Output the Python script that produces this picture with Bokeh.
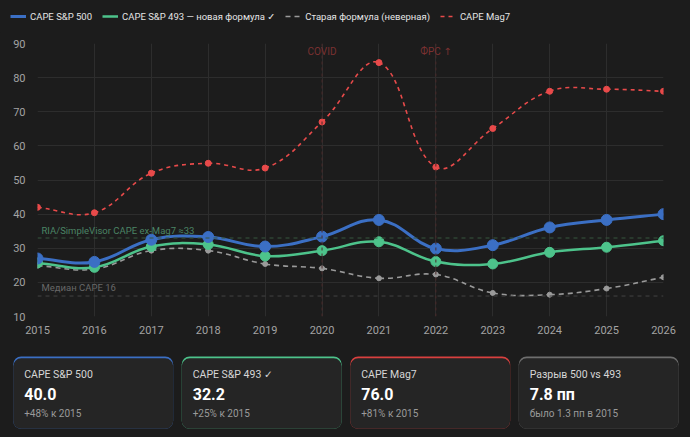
import math
from bokeh.plotting import figure
from bokeh.models import (Range1d, Span, Label, Legend, LegendItem, FixedTicker,
                          ColumnDataSource)
from bokeh.embed import file_html
from bokeh.resources import INLINE

# ---------------- data ----------------
years = [2015, 2016, 2017, 2018, 2019, 2020, 2021, 2022, 2023, 2024, 2025, 2026]
cape_500 = [27.0, 26.0, 32.5, 33.3, 30.5, 33.4, 38.3, 29.9, 30.9, 36.1, 38.3, 40.0]
cape_493 = [25.7, 24.4, 30.5, 31.1, 27.7, 29.3, 31.9, 26.1, 25.4, 28.8, 30.3, 32.2]
cape_old = [24.9, 23.9, 29.3, 29.3, 25.4, 24.1, 21.2, 22.3, 16.9, 16.4, 18.2, 21.5]
cape_mag7 = [42.0, 40.4, 52.0, 54.9, 53.5, 67.0, 84.4, 53.8, 65.1, 76.0, 76.6, 76.0]
y_ticks = [10, 20, 30, 40, 50, 60, 70, 80, 90]

ref_ria = 33
ref_median = 16
event_years = [2020, 2022]
event_labels = ["COVID", "ФРС ↑"]

series_labels = ["CAPE S&P 500", "CAPE S&P 493 — новая формула ✓",
                 "Старая формула (неверная)", "CAPE Mag7"]

card_titles = ["CAPE S&P 500", "CAPE S&P 493 ✓", "CAPE Mag7", "Разрыв 500 vs 493"]
card_values = ["40.0", "32.2", "76.0", "7.8 пп"]
card_notes = ["+48% к 2015", "+25% к 2015", "+81% к 2015", "было 1.3 пп в 2015"]

# ---------------- style ----------------
BG = "#1c1c1c"
CARD = "#252525"
BLUE = "#3b6fc4"
GREEN = "#4dc38b"
GRAY = "#9a9a9a"
RED = "#e84a4a"
card_colors = [BLUE, GREEN, "#d9403f", "#6e6e6e"]
FONT = "Roboto, DejaVu Sans"
LEG_FONT = "Roboto, DejaVu Sans"

W = 690
H0 = 32      # legend strip
H1 = 316     # chart
H2 = 89      # cards
ML, MR, MT, MB = 37, 27, 11, 32
FW = W - ML - MR
FH = H1 - MT - MB
X0, X1 = 2015, 2026
Y0, Y1 = 10, 90
PXX = FW / (X1 - X0)
PXY = FH / (Y1 - Y0)

specs = [
    # values, color, width, dash, marker size
    (cape_mag7, RED, 1.6, "4 4", 6),
    (cape_old, GRAY, 1.6, "5 4", 5),
    (cape_493, GREEN, 2.5, "solid", 10),
    (cape_500, BLUE, 3.0, "solid", 11),
]

# ---------------- legend strip ----------------
lg = figure(width=W, height=H0, output_backend="svg", toolbar_location=None,
            x_range=Range1d(0, 1), y_range=Range1d(0, 1), min_border=0,
            background_fill_color=BG, border_fill_color=BG, outline_line_color=None)
lg.axis.visible = False
lg.grid.visible = False
leg_r = {}
for vals, col, lw, dash, ms in specs:
    # swatch renderers lie outside the visible range; only their legend glyph shows
    leg_r[col] = lg.line([5, 6], [5, 5], line_color=col, line_width=lw, line_dash=dash)
items = [LegendItem(label=series_labels[0], renderers=[leg_r[BLUE]]),
         LegendItem(label=series_labels[1], renderers=[leg_r[GREEN]]),
         LegendItem(label=series_labels[2], renderers=[leg_r[GRAY]]),
         LegendItem(label=series_labels[3], renderers=[leg_r[RED]])]
legend = Legend(items=items, orientation="horizontal", location=(10, 10),
                background_fill_alpha=0, border_line_alpha=0,
                label_text_color="#e4e4e4", label_text_font=LEG_FONT,
                label_text_font_size="9.5px", glyph_width=16, glyph_height=12,
                label_height=12, label_standoff=4, spacing=10, padding=0,
                margin=0)
lg.add_layout(legend, "center")

# ---------------- chart ----------------
p = figure(width=W, height=H1, output_backend="svg", toolbar_location=None,
           x_range=Range1d(X0, X1), y_range=Range1d(Y0, Y1),
           min_border_left=ML, min_border_right=MR, min_border_top=MT,
           min_border_bottom=MB, background_fill_color=BG,
           border_fill_color=BG, outline_line_color=None)

p.xaxis.ticker = FixedTicker(ticks=years)
p.yaxis.ticker = FixedTicker(ticks=y_ticks)
for ax in (p.xaxis, p.yaxis):
    ax.axis_line_color = None
    ax.major_tick_line_color = None
    ax.minor_tick_line_color = None
    ax.major_label_text_color = "#a3a3a3"
    ax.major_label_text_font = FONT
    ax.major_label_text_font_size = "11px"
p.xaxis.major_label_standoff = 3
p.yaxis.major_label_standoff = 6
p.xgrid.grid_line_color = "#2d2d2d"
p.ygrid.grid_line_color = "#2d2d2d"

p.add_layout(Span(location=ref_ria, dimension="width", line_color="#36563f",
                  line_dash="4 4", line_width=1))
p.add_layout(Span(location=ref_median, dimension="width", line_color="#444444",
                  line_dash="4 4", line_width=1))
for ey in event_years:
    p.add_layout(Span(location=ey, dimension="height", line_color="#4a2a2a",
                      line_dash="3 3", line_width=1))
for ey, lab in zip(event_years, event_labels):
    p.add_layout(Label(x=ey, y=Y1, y_offset=-8, text=lab, text_align="center",
                       text_baseline="middle", text_color="#7a3131",
                       text_font=FONT, text_font_size="10px"))
p.add_layout(Label(x=X0, y=ref_ria, x_offset=4, y_offset=2,
                   text="RIA/SimpleVisor CAPE ex-Mag7 ≈33", text_baseline="bottom",
                   text_color="#4b8465", text_font=FONT, text_font_size="9.5px"))
p.add_layout(Label(x=X0, y=ref_median, x_offset=4, y_offset=3,
                   text="Медиан CAPE 16", text_baseline="bottom",
                   text_color="#686868", text_font=FONT, text_font_size="9.5px"))


def spline(xs, ys, t=0.4):
    n = len(xs)
    P = [(x * PXX, y * PXY) for x, y in zip(xs, ys)]
    prevc, nextc = [], []
    for i in range(n):
        p0 = P[max(i - 1, 0)]
        p1 = P[i]
        p2 = P[min(i + 1, n - 1)]
        d01 = math.hypot(p1[0] - p0[0], p1[1] - p0[1])
        d12 = math.hypot(p2[0] - p1[0], p2[1] - p1[1])
        s = d01 + d12
        s01 = d01 / s if s else 0
        s12 = d12 / s if s else 0
        fa, fb = t * s01, t * s12
        prevc.append((p1[0] - fa * (p2[0] - p0[0]), p1[1] - fa * (p2[1] - p0[1])))
        nextc.append((p1[0] + fb * (p2[0] - p0[0]), p1[1] + fb * (p2[1] - p0[1])))
    return dict(
        x0=xs[:-1], y0=ys[:-1], x1=xs[1:], y1=ys[1:],
        cx0=[c[0] / PXX for c in nextc[:-1]], cy0=[c[1] / PXY for c in nextc[:-1]],
        cx1=[c[0] / PXX for c in prevc[1:]], cy1=[c[1] / PXY for c in prevc[1:]],
    )


for vals, col, lw, dash, ms in specs:
    src = ColumnDataSource(spline(years, vals))
    p.bezier(x0="x0", y0="y0", x1="x1", y1="y1", cx0="cx0", cy0="cy0",
             cx1="cx1", cy1="cy1", source=src, line_color=col, line_width=lw,
             line_dash=dash)
    p.scatter(years, vals, size=ms, fill_color=col, line_color=col)

# ---------------- cards ----------------
c = figure(width=W, height=H2, output_backend="svg", toolbar_location=None,
           x_range=Range1d(0, W), y_range=Range1d(0, H2),
           min_border=0, background_fill_color=BG, border_fill_color=BG,
           outline_line_color=None)
c.axis.visible = False
c.grid.visible = False

card_w = 160
gap = 8.5
lefts = [12.7 + i * (card_w + gap) for i in range(4)]
rights = [l + card_w for l in lefts]
top, bottom = H2 - 8, 8.7
c.quad(left=lefts, right=rights, top=[top] * 4, bottom=[bottom] * 4,
       fill_color=card_colors, line_color=None, border_radius=8)
c.quad(left=lefts, right=rights, top=[top - 1.8] * 4, bottom=[bottom] * 4,
       fill_color=CARD, line_color=None, border_radius=8)
tx = [l + 11 for l in lefts]
c.text(x=tx, y=[63] * 4, text=card_titles, text_color="#d6d6d6",
       text_font_size="10.5px", text_baseline="middle", text_font={"value": FONT})
c.text(x=tx, y=[43.5] * 4, text=card_values, text_color="#ffffff",
       text_font_size="16px", text_font_style="bold", text_baseline="middle",
       text_font={"value": FONT})
c.text(x=tx, y=[24] * 4, text=card_notes, text_color="#9a9a9a",
       text_font_size="10px", text_baseline="middle", text_font={"value": FONT})

# three independent roots stacked on the page (no frame alignment between them)
html = file_html([lg, p, c], INLINE)
html = html.replace("</head>", "<style>html,body{background:#1c1c1c;}</style></head>", 1)
open("out.html", "w").write(html)
